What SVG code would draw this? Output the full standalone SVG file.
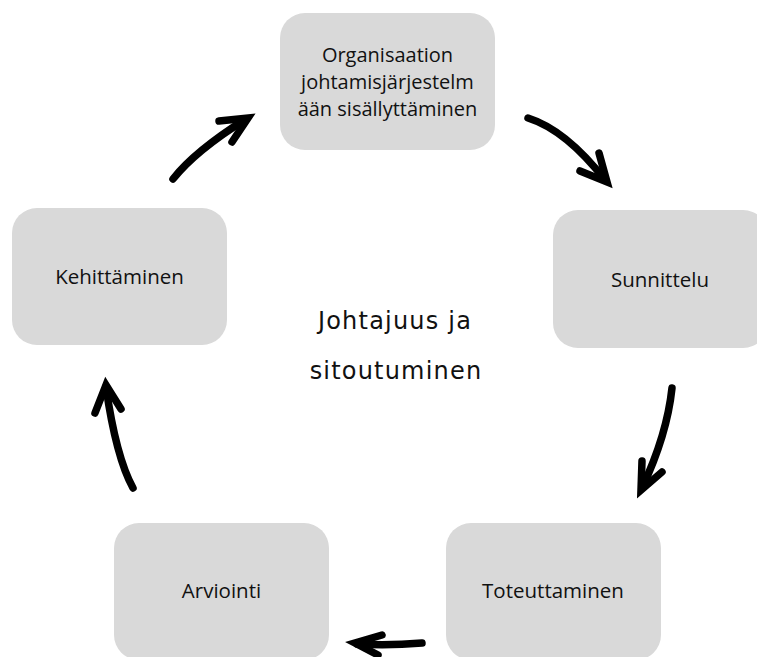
<svg xmlns="http://www.w3.org/2000/svg" width="757" height="657" viewBox="0 0 757 657">
<style>
.box{fill:#d9d9d9;}
.lbl{font-family:"Open Sans","Noto Sans",sans-serif;font-size:20.5px;fill:#111;text-anchor:middle;}
.sm{font-size:20px;}
.ctr{font-family:"DejaVu Sans",sans-serif;font-size:24px;letter-spacing:1.2px;fill:#111;text-anchor:middle;}
.arr{fill:none;stroke:#000;stroke-width:7.5;stroke-linecap:round;stroke-linejoin:miter;}
</style>
<rect width="757" height="657" fill="#fff"/>
<g id="node-org"><rect class="box" x="280" y="13" width="215" height="137" rx="25"/>
<text class="lbl sm" x="387.5" y="62">Organisaation</text>
<text class="lbl sm" x="387.5" y="89">johtamisjärjestelm</text>
<text class="lbl sm" x="387.5" y="116">ään sisällyttäminen</text></g>
<g id="node-sunnittelu"><rect class="box" x="553" y="210" width="215" height="138" rx="25"/>
<text class="lbl" x="660" y="287">Sunnittelu</text></g>
<g id="node-toteuttaminen"><rect class="box" x="446" y="523" width="215" height="137" rx="25"/>
<text class="lbl" x="553" y="598">Toteuttaminen</text></g>
<g id="node-arviointi"><rect class="box" x="114" y="523" width="215" height="137" rx="25"/>
<text class="lbl" x="221.5" y="598">Arviointi</text></g>
<g id="node-kehittaminen"><rect class="box" x="12" y="208" width="215" height="137" rx="25"/>
<text class="lbl" x="119.5" y="284">Kehittäminen</text></g>
<g id="center"><text class="ctr" x="395" y="329">Johtajuus ja</text>
<text class="ctr" x="396" y="379">sitoutuminen</text></g>
<g id="connectors">
<path class="arr" d="M173,179 Q195,151 246,119"/>
<path class="arr" d="M219,121 L248,118 L232,142"/>
<path class="arr" d="M528,118 Q566,130 605,180"/>
<path class="arr" d="M599,153 L607,182 L580,171"/>
<path class="arr" d="M672,388 Q667,435 642,488"/>
<path class="arr" d="M642,461 L641,490 L662,472"/>
<path class="arr" d="M422,643 Q388,646 357,644"/>
<path class="arr" d="M382,635 L355,643 L378,655"/>
<path class="arr" d="M133,488 Q116,457 106,387"/>
<path class="arr" d="M95,413 L106,385 L121,409"/>
</g>
</svg>
